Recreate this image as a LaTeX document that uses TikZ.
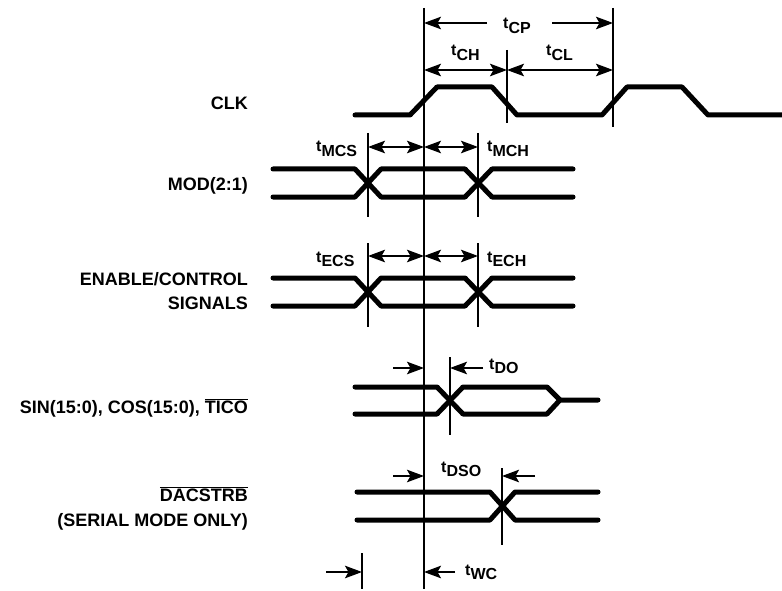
\documentclass[tikz,border=0pt]{standalone}
\usepackage{fontspec}
\setmainfont{Liberation Sans}
\usetikzlibrary{arrows.meta}
\newcommand{\tlab}[1]{t\raisebox{-4.5pt}{#1}}
\begin{document}
\begin{tikzpicture}[x=1pt,y=-1pt,
  wave/.style={line width=5pt, line cap=round, line join=round},
  tickln/.style={line width=2pt},
  hd/.tip={Stealth[length=17pt,width=12.5pt,inset=3.5pt]},
  dimboth/.style={line width=2pt, hd-hd},
  dimto/.style={line width=2pt, -hd},
  sig/.style={anchor=base east, inner sep=0pt, font=\bfseries\fontsize{18}{20}\selectfont},
  tim/.style={anchor=base west, inner sep=0pt, font=\bfseries\fontsize{16}{18}\selectfont}]
\useasboundingbox (0,0) rectangle (782,591);

% signal names
\node[sig] (nclk) at (248,110) {CLK};
\node[sig] (nmod) at (248,190) {MOD(2:1)};
\node[sig] (nen1) at (248,285) {ENABLE/CONTROL};
\node[sig] (nen2) at (248,309) {SIGNALS};
\node[sig] (nsin) at (248,413) {SIN(15:0), COS(15:0), $\overline{\hbox{TICO}}$};
\node[sig] (ndac1) at (248,501) {$\overline{\hbox{DACSTRB}}$};
\node[sig] (ndac2) at (248,526) {(SERIAL MODE ONLY)};

% vertical reference lines
\coordinate (mT) at (424,8);   \coordinate (mB) at (424,589);
\coordinate (cpT) at (613,8);  \coordinate (cpB) at (613,127);
\coordinate (chT) at (507,50); \coordinate (chB) at (507,123);
\coordinate (m1T) at (368,133); \coordinate (m1B) at (368,217);
\coordinate (m2T) at (478,133); \coordinate (m2B) at (478,217);
\coordinate (e1T) at (368,243); \coordinate (e1B) at (368,327);
\coordinate (e2T) at (478,243); \coordinate (e2B) at (478,327);
\coordinate (dT) at (450,357); \coordinate (dB) at (450,435);
\coordinate (sT) at (502,468); \coordinate (sB) at (502,545);
\coordinate (wT) at (362,553); \coordinate (wB) at (362,589);
\foreach \a/\b in {mT/mB,cpT/cpB,chT/chB,m1T/m1B,m2T/m2B,e1T/e1B,e2T/e2B,dT/dB,sT/sB,wT/wB}
  \draw[tickln] (\a) -- (\b);

% CLK
\draw[wave] (355,115) -- (410,115) -- (437,87) -- (492,87) -- (517,115) -- (602,115)
  -- (627,87) -- (682,87) -- (708,115) -- (784,115);

% MOD(2:1)
\draw[wave] (273,169) -- (355,169) -- (381,197) -- (465,197) -- (492,169) -- (573,169);
\draw[wave] (273,197) -- (355,197) -- (381,169) -- (465,169) -- (492,197) -- (573,197);

% ENABLE/CONTROL
\draw[wave] (273,278) -- (355,278) -- (381,306) -- (465,306) -- (492,278) -- (573,278);
\draw[wave] (273,306) -- (355,306) -- (381,278) -- (465,278) -- (492,306) -- (573,306);

% SIN/COS/TICO
\draw[wave] (355,387) -- (437,387) -- (463,414) -- (547,414) -- (560,400) -- (598,400);
\draw[wave] (355,414) -- (437,414) -- (463,387) -- (547,387) -- (560,400);

% DACSTRB
\draw[wave] (357,492) -- (490,492) -- (515,520) -- (598,520);
\draw[wave] (357,520) -- (490,520) -- (515,492) -- (598,492);

% dimension arrows
\coordinate (cpa) at (424,23); \coordinate (cpb) at (487,23);
\coordinate (cpc) at (552,23); \coordinate (cpd) at (613,23);
\draw[dimto] (cpb) -- (cpa);
\draw[dimto] (cpc) -- (cpd);
\coordinate (cha) at (424,70); \coordinate (chb) at (507,70); \coordinate (chc) at (613,70);
\draw[dimboth] (cha) -- (chb);
\draw[dimboth] (chb) -- (chc);
\coordinate (ma) at (368,147); \coordinate (mb) at (424,147); \coordinate (mc) at (478,147);
\draw[dimboth] (ma) -- (mb);
\draw[dimboth] (mb) -- (mc);
\coordinate (ea) at (368,256); \coordinate (eb) at (424,256); \coordinate (ec) at (478,256);
\draw[dimboth] (ea) -- (eb);
\draw[dimboth] (eb) -- (ec);
\coordinate (da) at (393,368); \coordinate (db) at (424,368);
\coordinate (dc) at (483,368); \coordinate (dd) at (450,368);
\draw[dimto] (da) -- (db);
\draw[dimto] (dc) -- (dd);
\coordinate (sa) at (393,476); \coordinate (sb) at (424,476);
\coordinate (sc) at (535,476); \coordinate (sd) at (502,476);
\draw[dimto] (sa) -- (sb);
\draw[dimto] (sc) -- (sd);
\coordinate (wa) at (326,572); \coordinate (wb) at (362,572);
\coordinate (wc) at (455,572); \coordinate (wd) at (424,572);
\draw[dimto] (wa) -- (wb);
\draw[dimto] (wc) -- (wd);

% timing labels
\node[tim] (lcp) at (503,29) {\tlab{CP}};
\node[tim] (lch) at (451,56) {\tlab{CH}};
\node[tim] (lcl) at (546,56) {\tlab{CL}};
\node[tim] (lmcs) at (316,152) {\tlab{MCS}};
\node[tim] (lmch) at (487,152) {\tlab{MCH}};
\node[tim] (lecs) at (316,262) {\tlab{ECS}};
\node[tim] (lech) at (487,262) {\tlab{ECH}};
\node[tim] (ldo) at (489,369) {\tlab{DO}};
\node[tim] (ldso) at (441,472) {\tlab{DSO}};
\node[tim] (lwc) at (465,575) {\tlab{WC}};
\end{tikzpicture}
\end{document}
